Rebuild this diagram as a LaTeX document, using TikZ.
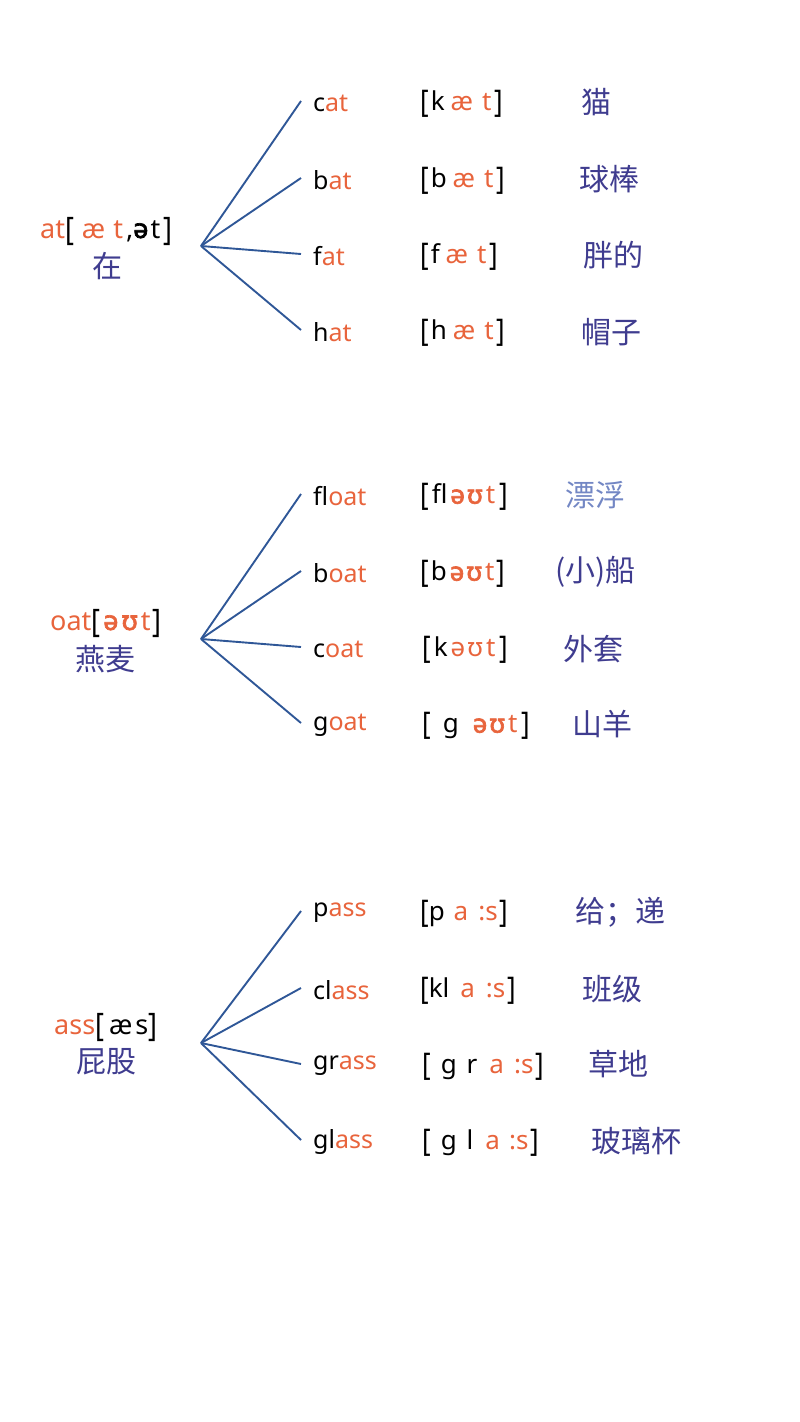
\documentclass[tikz,border=0pt]{standalone}
\usepackage{fontspec}
\setmainfont{Noto Sans}
\newfontfamily\fb{Noto Sans}[FakeBold=2.5]
\newfontfamily\cjk{Noto Sans CJK SC}
\definecolor{orng}{HTML}{E8643C}
\definecolor{navy}{HTML}{3F3C8F}
\definecolor{lblue}{HTML}{7387C4}
\definecolor{lnc}{HTML}{2F5797}
\newcommand\org[1]{\textcolor{orng}{#1}}
\newcommand\gp[1][4]{\hspace{#1pt}}
\newcommand\lbk{\raisebox{-2pt}{\scalebox{1}[1.2]{[}}}
\newcommand\rbk{\raisebox{-2pt}{\scalebox{1}[1.2]{]}}}
\tikzset{
  word/.style={anchor=west,inner xsep=12pt,inner ysep=0pt,yshift=-2pt,font=\fontsize{25}{27}\selectfont},
  phon/.style={anchor=west,inner sep=0pt,yshift=-3pt,font=\fontsize{26}{28}\selectfont},
  zh/.style={anchor=west,inner sep=0pt,yshift=-2pt,text=navy,font=\cjk\fontsize{30}{32}\selectfont},
  root/.style={inner sep=0pt,yshift=-2pt,font=\fontsize{27}{29}\selectfont},
  rootzh/.style={inner sep=0pt,text=navy,font=\cjk\fontsize{30}{32}\selectfont},
  br/.style={draw=lnc,line width=1.9pt}
}
\begin{document}
\begin{tikzpicture}[x=1pt,y=-1pt]
\useasboundingbox (0,0) rectangle (800,1422);
% group 1
\coordinate (h1) at (201,246);
\node[root,anchor=west] (r1) at (40,229) {\org{at}\lbk\gp[8]\org{æ\gp[8]t}\gp[3],{\fb ə}\gp[2]t\gp[3]\rbk};
\node[rootzh] (r1z) at (107,266) {在};
\coordinate (e11) at (301,101);
\coordinate (e12) at (301,178);
\coordinate (e13) at (301,254);
\coordinate (e14) at (301,330);
\node[word] (w11) at (e11) {c\org{at}};
\node[word] (w12) at (e12) {b\org{at}};
\node[word] (w13) at (e13) {f\org{at}};
\node[word] (w14) at (e14) {h\org{at}};
\node[phon] (p11) at (420,101) {\lbk\gp[2]k\gp[6]\org{æ\gp[9]t}\gp[3]\rbk};
\node[phon] (p12) at (420,178) {\lbk\gp[2]b\gp[6]\org{æ\gp[9]t}\gp[3]\rbk};
\node[phon] (p13) at (420,254) {\lbk\gp[2]f\gp[6]\org{æ\gp[9]t}\gp[3]\rbk};
\node[phon] (p14) at (420,330) {\lbk\gp[2]h\gp[6]\org{æ\gp[9]t}\gp[3]\rbk};
\node[zh] (z11) at (581,100) {猫};
\node[zh] (z12) at (579,177) {球棒};
\node[zh] (z13) at (583,253) {胖的};
\node[zh] (z14) at (581,330) {帽子};
\foreach \i in {1,...,4} \draw[br] (h1) -- (e1\i);
% group 2
\coordinate (h2) at (201,639);
\node[root,anchor=west] (r2) at (50,621) {\org{oat}\lbk\gp[3]\org{{\fb ə\gp[3]ʊ}\gp[3]t}\gp[2]\rbk};
\node[rootzh] (r2z) at (105,659) {燕麦};
\coordinate (e21) at (301,494);
\coordinate (e22) at (301,571);
\coordinate (e23) at (301,647);
\coordinate (e24) at (301,723);
\node[word] (w21) at (e21) {fl\org{oat}};
\node[word] (w22) at (e22) {b\org{oat}};
\node[word] (w23) at (e23) {c\org{oat}};
\node[word] (w24) at (e24) {g\org{oat}};
\node[phon] (p21) at (420,494) {\lbk\gp[3]fl\gp[3]\org{{\fb ə\gp[2]ʊ}\gp[3]t}\gp[4]\rbk};
\node[phon] (p22) at (420,571) {\lbk\gp[2]b\gp[3]\org{{\fb ə\gp[2]ʊ}\gp[3]t}\gp[2]\rbk};
\node[phon] (p23) at (422,647) {\lbk\gp[3]k\gp[3]\org{ə\gp[2]ʊ\gp[3]t}\gp[4]\rbk};
\node[phon] (p24) at (422,723) {\lbk\gp[12]g\gp[14]\org{{\fb ə\gp[2]ʊ}\gp[3]t}\gp[4]\rbk};
\node[zh,text=lblue] (z21) at (565,493) {漂浮};
\node[zh] (z22) at (555,570) {(小)船};
\node[zh] (z23) at (563,647) {外套};
\node[zh] (z24) at (572,722) {山羊};
\foreach \i in {1,...,4} \draw[br] (h2) -- (e2\i);
% group 3
\coordinate (h3) at (201,1043);
\node[root,anchor=west] (r3) at (54,1025) {\org{ass}\lbk\gp[5]æ\gp[3]s\rbk};
\node[rootzh] (r3z) at (106,1062) {屁股};
\coordinate (e31) at (301,911);
\coordinate (e32) at (301,988);
\coordinate (e33) at (301,1064);
\coordinate (e34) at (301,1140);
\node[word] (w31) at (e31) {p\org{ass}};
\node[word] (w32) at (e32) {cl\org{ass}};
\node[word] (w33) at (e33) {gr\org{ass}};
\node[word] (w34) at (e34) {gl\org{ass}};
\node[phon] (p31) at (420,911) {\lbk p\gp[9]\org{a\gp[10]:s}\gp[2]\rbk};
\node[phon] (p32) at (420,988) {\lbk kl\gp[11]\org{a\gp[11]:s}\gp[2]\rbk};
\node[phon] (p33) at (422,1064) {\lbk\gp[10]g\gp[10]r\gp[12]\org{a\gp[10]:s}\gp[2]\rbk};
\node[phon] (p34) at (422,1140) {\lbk\gp[10]g\gp[10]l\gp[12]\org{a\gp[9]:s}\gp[2]\rbk};
\node[zh] (z31) at (575,910) {给；递};
\node[zh] (z32) at (582,987) {班级};
\node[zh] (z33) at (588,1062) {草地};
\node[zh] (z34) at (591,1139) {玻璃杯};
\foreach \i in {1,...,4} \draw[br] (h3) -- (e3\i);
\end{tikzpicture}
\end{document}
